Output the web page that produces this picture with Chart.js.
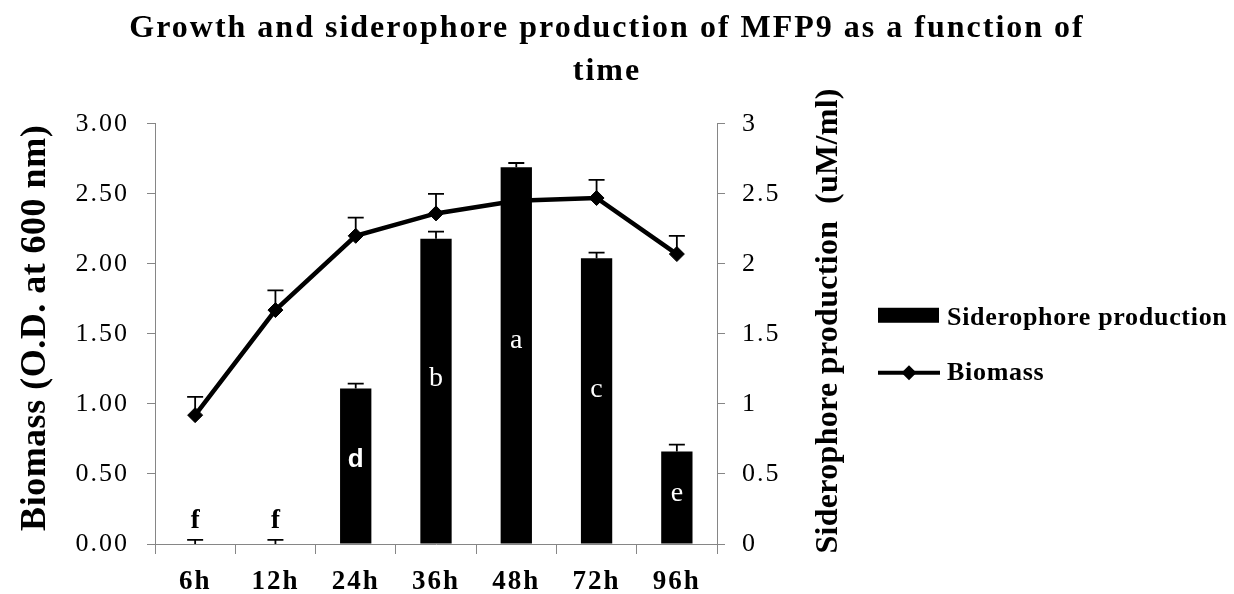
<!DOCTYPE html>
<html><head><meta charset="utf-8">
<script src="https://cdn.jsdelivr.net/npm/chart.js@4"></script>
<style>html,body{margin:0;padding:0;background:#fff}#wrap{width:1234px;height:594px;position:relative}</style>
</head><body><div id="wrap"><canvas id="c"></canvas></div>
<script>
// ---- data ----
const categories = ['6h', '12h', '24h', '36h', '48h', '72h', '96h'];
const siderophore = [0, 0, 1.11, 2.18, 2.69, 2.04, 0.66];
const siderophoreErr = [0.03, 0.03, 0.035, 0.05, 0.03, 0.04, 0.05];
const biomass = [0.92, 1.67, 2.20, 2.36, 2.45, 2.47, 2.07];
const biomassErr = [0.13, 0.14, 0.13, 0.14, 0.13, 0.13, 0.13];
const letters = ['f', 'f', 'd', 'b', 'a', 'c', 'e'];
const leftTicks = ['0.00', '0.50', '1.00', '1.50', '2.00', '2.50', '3.00'];
const rightTicks = ['0', '0.5', '1', '1.5', '2', '2.5', '3'];
const titleLines = ['Growth and siderophore production of MFP9 as a function of', 'time'];
const leftTitle = 'Biomass (O.D. at 600 nm)';
const rightTitle = 'Siderophore production  (uM/ml)';
const legendLabels = ['Siderophore production', 'Biomass'];

// ---- styles ----
const SERIF = '"Liberation Serif", "Times New Roman", serif';
const SANS = '"Liberation Sans", Arial, sans-serif';
const GRAY = '#868686';
const letterFonts = ['bold 27px ' + SERIF, 'bold 27px ' + SERIF, 'bold 26px ' + SANS,
  '28px ' + SERIF, '28px ' + SERIF, '28px ' + SERIF, '28px ' + SERIF];

const extras = {
  id: 'extras',
  beforeDraw(chart) { chart.ctx.letterSpacing = '2px'; },
  afterDatasetsDraw(chart) {
    const ctx = chart.ctx;
    const ys = chart.scales.y1, yl = chart.scales.y;
    ctx.save();
    ctx.strokeStyle = '#000';
    ctx.lineWidth = 1.8;
    const drawErr = (x, y0, y1) => {
      ctx.beginPath();
      ctx.moveTo(x, y0); ctx.lineTo(x, y1);
      ctx.moveTo(x - 8, y1); ctx.lineTo(x + 8, y1);
      ctx.stroke();
    };
    chart.getDatasetMeta(0).data.forEach((el, i) =>
      drawErr(el.x, ys.getPixelForValue(siderophore[i]), ys.getPixelForValue(siderophore[i] + siderophoreErr[i])));
    chart.getDatasetMeta(1).data.forEach((el, i) =>
      drawErr(el.x, yl.getPixelForValue(biomass[i]), yl.getPixelForValue(biomass[i] + biomassErr[i])));
    ctx.restore();
  },
  afterDraw(chart) {
    const ctx = chart.ctx;
    const ca = chart.chartArea;
    const ys = chart.scales.y1;
    ctx.save();
    ctx.letterSpacing = '0px';
    ctx.textAlign = 'center';
    // significance letters
    chart.getDatasetMeta(0).data.forEach((el, i) => {
      const v = siderophore[i];
      ctx.font = letterFonts[i];
      if (v > 0.1) {
        ctx.fillStyle = '#fff';
        ctx.textBaseline = 'middle';
        ctx.fillText(letters[i], el.x, ys.getPixelForValue(v * 0.54));
      } else {
        ctx.fillStyle = '#000';
        ctx.textBaseline = 'alphabetic';
        ctx.fillText(letters[i], el.x, ys.getPixelForValue(v + siderophoreErr[i]) - 12);
      }
    });
    // axis titles
    ctx.fillStyle = '#000';
    ctx.textBaseline = 'alphabetic';
    ctx.save();
    ctx.translate(ca.left - 110, (ca.top + ca.bottom) / 2 - 6);
    ctx.rotate(-Math.PI / 2);
    ctx.font = 'bold 36px ' + SERIF;
    ctx.letterSpacing = '0.5px';
    ctx.fillText(leftTitle, 0, 0);
    ctx.restore();
    ctx.save();
    ctx.translate(ca.right + 120, (ca.top + ca.bottom) / 2 - 13);
    ctx.rotate(-Math.PI / 2);
    ctx.font = 'bold 32px ' + SERIF;
    ctx.letterSpacing = '0.3px';
    ctx.fillText(rightTitle, 0, 0);
    ctx.restore();
    // legend
    const lx = ca.right + 161;
    ctx.fillStyle = '#000';
    ctx.fillRect(lx, ca.top + 184, 61, 15);
    ctx.strokeStyle = '#000';
    ctx.lineWidth = 4;
    ctx.beginPath();
    ctx.moveTo(lx, ca.top + 249); ctx.lineTo(lx + 62, ca.top + 249);
    ctx.stroke();
    const dx = lx + 31, dy = ca.top + 249, r = 7.5;
    ctx.beginPath();
    ctx.moveTo(dx - r, dy); ctx.lineTo(dx, dy - r); ctx.lineTo(dx + r, dy); ctx.lineTo(dx, dy + r);
    ctx.closePath(); ctx.fill();
    ctx.textAlign = 'left';
    ctx.font = 'bold 26px ' + SERIF;
    ctx.letterSpacing = '0.7px';
    ctx.fillText(legendLabels[0], lx + 69, ca.top + 201);
    ctx.fillText(legendLabels[1], lx + 69, ca.top + 256);
    ctx.restore();
  }
};

new Chart(document.getElementById('c'), {
  type: 'bar',
  data: {
    labels: categories,
    datasets: [
      { type: 'bar', label: legendLabels[0], data: siderophore, yAxisID: 'y1',
        backgroundColor: '#000', borderWidth: 0, barPercentage: 0.39, categoryPercentage: 1, order: 2 },
      { type: 'line', label: legendLabels[1], data: biomass, yAxisID: 'y',
        borderColor: '#000', backgroundColor: '#000', borderWidth: 4.5, tension: 0,
        pointStyle: 'rectRot', pointRadius: 7.5, pointBorderWidth: 1,
        pointBackgroundColor: '#000', pointBorderColor: '#000', order: 1 }
    ]
  },
  options: {
    responsive: true, maintainAspectRatio: false, animation: false,
    layout: { padding: { left: 0, right: 20, top: 0, bottom: 0 } },
    plugins: {
      legend: { display: false },
      tooltip: { enabled: false },
      title: { display: true, text: titleLines, color: '#000',
        font: { family: SERIF, size: 32, weight: 'bold', lineHeight: 1.34 },
        padding: { top: 7, bottom: 31 } }
    },
    scales: {
      x: {
        grid: { display: true, offset: true, drawOnChartArea: false, drawTicks: true, tickLength: 10, color: GRAY, lineWidth: 1 },
        border: { display: true, color: GRAY, width: 1 },
        ticks: { color: '#000', font: { family: SERIF, size: 27, weight: 'bold' }, padding: 12, maxRotation: 0, autoSkip: false },
        afterFit(s) { s.height = 50; }
      },
      y: {
        position: 'left', min: 0, max: 3,
        ticks: { stepSize: 0.5, color: '#000', font: { family: SERIF, size: 26 }, padding: 18,
          callback: (v, i) => leftTicks[i] },
        grid: { drawOnChartArea: false, tickLength: 8, color: GRAY },
        border: { display: true, color: GRAY, width: 1 },
        afterFit(s) { s.width = 155; }
      },
      y1: {
        position: 'right', min: 0, max: 3,
        ticks: { stepSize: 0.5, color: '#000', font: { family: SERIF, size: 26 }, padding: 17,
          callback: (v, i) => rightTicks[i] },
        grid: { drawOnChartArea: false, tickLength: 8, color: GRAY },
        border: { display: true, color: GRAY, width: 1 },
        afterFit(s) { s.width = 497; }
      }
    }
  },
  plugins: [extras]
});
</script>
</body></html>
